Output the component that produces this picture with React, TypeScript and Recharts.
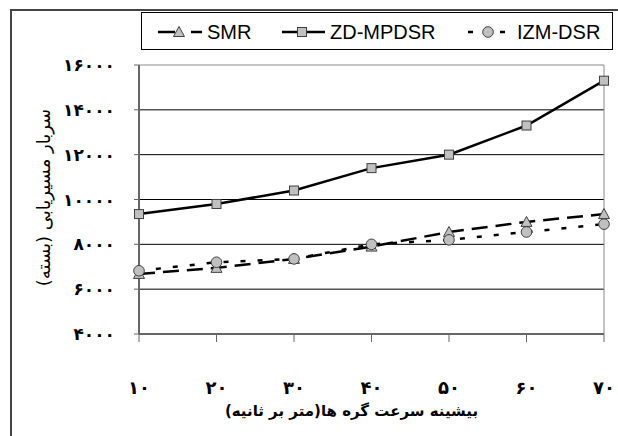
import React from 'react';
import { LineChart, Line, XAxis, YAxis, CartesianGrid, ReferenceLine, Label } from 'recharts';

const speeds = [10, 20, 30, 40, 50, 60, 70];
const smr = [6680, 6950, 7350, 7900, 8550, 9000, 9350];
const zdMpdsr = [9350, 9800, 10400, 11400, 12000, 13300, 15300];
const izmDsr = [6820, 7200, 7350, 8000, 8200, 8550, 8900];
const yTicks = [4000, 6000, 8000, 10000, 12000, 14000, 16000];
const gridTicks = [6000, 8000, 10000, 12000, 14000];
const seriesNames = ['SMR', 'ZD-MPDSR', 'IZM-DSR'];
const yAxisTitle = 'سربار مسیریابی (بسته)';
const xAxisTitle = 'بیشینه سرعت گره ها(متر بر ثانیه)';

const data = speeds.map((s, i) => ({ speed: s, smr: smr[i], zd: zdMpdsr[i], izm: izmDsr[i] }));

const FA = '۰۱۲۳۴۵۶۷۸۹';
const toFa = (v: number | string) => String(v).replace(/\d/g, (d) => FA[Number(d)]);

const MARK_FILL = '#c0c0c0';
const MARK_STROKE = '#404040';

const Tri = (p: any) => {
  const { cx, cy } = p;
  if (cx == null || cy == null) return null;
  return <path key={p.key} d={`M${cx},${cy - 5.5} L${cx + 5.5},${cy + 4.5} L${cx - 5.5},${cy + 4.5} Z`} fill={MARK_FILL} stroke={MARK_STROKE} strokeWidth={1} />;
};
const Sq = (p: any) => {
  const { cx, cy } = p;
  if (cx == null || cy == null) return null;
  return <rect key={p.key} x={cx - 4.5} y={cy - 4.5} width={9} height={9} fill={MARK_FILL} stroke={MARK_STROKE} strokeWidth={1} />;
};
const Circ = (p: any) => {
  const { cx, cy } = p;
  if (cx == null || cy == null) return null;
  return <circle key={p.key} cx={cx} cy={cy} r={5.3} fill={MARK_FILL} stroke={MARK_STROKE} strokeWidth={1} />;
};

const YTitle = (props: any) => {
  const vb = props.viewBox || { x: 0, y: 65, width: 139, height: 269 };
  const x = vb.x + 43;
  const y = vb.y + vb.height / 2 - 2;
  return (
    <text x={x} y={y} transform={`rotate(-90 ${x} ${y})`} textAnchor="middle" dominantBaseline="central" direction="rtl"
      style={{ fontFamily: 'DejaVu Sans', fontSize: 18, fill: '#000', direction: 'rtl', unicodeBidi: 'plaintext' } as any}>
      {yAxisTitle}
    </text>
  );
};
const XTitle = (props: any) => {
  const vb = props.viewBox || { x: 139, y: 334, width: 465, height: 102 };
  const x = vb.x + vb.width / 2 - 20;
  const y = vb.y + 77;
  return (
    <text x={x} y={y} textAnchor="middle" dominantBaseline="central" direction="rtl"
      style={{ fontFamily: 'DejaVu Sans', fontWeight: 'bold', fontSize: 15, fill: '#000', direction: 'rtl', unicodeBidi: 'plaintext' } as any}>
      {xAxisTitle}
    </text>
  );
};

const LegendBox = () => (
  <svg width={472} height={38} style={{ position: 'absolute', left: 141, top: 12 }}>
    <rect x={0.5} y={0.5} width={471} height={37} fill="#fff" stroke="#000" strokeWidth={1} />
    <g>
      <line x1={17} y1={20} x2={34} y2={20} stroke="#000" strokeWidth={2.5} />
      <line x1={50} y1={20} x2={61} y2={20} stroke="#000" strokeWidth={2.5} />
      <path d="M38,14.5 L43.5,24.5 L32.5,24.5 Z" fill={MARK_FILL} stroke={MARK_STROKE} />
      <text x={66} y={20} dominantBaseline="central" style={{ fontFamily: 'Liberation Sans', fontSize: 20 }}>{seriesNames[0]}</text>
    </g>
    <g>
      <line x1={141} y1={20} x2={184} y2={20} stroke="#000" strokeWidth={2.5} />
      <rect x={156.5} y={15.5} width={9} height={9} fill={MARK_FILL} stroke={MARK_STROKE} />
      <text x={189} y={20} dominantBaseline="central" style={{ fontFamily: 'Liberation Sans', fontSize: 20 }}>{seriesNames[1]}</text>
    </g>
    <g>
      <line x1={327} y1={20} x2={332} y2={20} stroke="#000" strokeWidth={2.5} />
      <line x1={359} y1={20} x2={364} y2={20} stroke="#000" strokeWidth={2.5} />
      <circle cx={347} cy={20} r={5.3} fill={MARK_FILL} stroke={MARK_STROKE} />
      <text x={376} y={20} dominantBaseline="central" style={{ fontFamily: 'Liberation Sans', fontSize: 20 }}>{seriesNames[2]}</text>
    </g>
  </svg>
);

export default function App() {
  return (
    <div style={{ position: 'absolute', left: 0, top: 0, width: 618, height: 436, background: '#fff', overflow: 'hidden' }}>
      <div style={{ position: 'absolute', left: 10, top: 9, width: 700, height: 500, borderLeft: '2px solid #444', borderTop: '2px solid #444' }} />
      <div style={{ position: 'absolute', left: 0, top: 0 }}>
        <LineChart width={618} height={436} data={data} margin={{ top: 65, right: 14, left: 0, bottom: 0 }}>
          <CartesianGrid vertical={false} horizontalValues={gridTicks} stroke="#000" strokeWidth={1} />
          <ReferenceLine y={16000} stroke="#888" strokeWidth={1} />
          <ReferenceLine x={70} stroke="#888" strokeWidth={1} />
          <XAxis dataKey="speed" type="number" domain={[10, 70]} ticks={speeds} tickFormatter={toFa}
            height={102} tickSize={8} tickMargin={39} axisLine={{ stroke: '#666', strokeWidth: 2 }} tickLine={{ stroke: '#666', strokeWidth: 1 }}
            tick={{ fill: '#000', fontFamily: 'DejaVu Sans', fontWeight: 'bold', fontSize: 18 }} interval={0}>
            <Label content={XTitle} />
          </XAxis>
          <YAxis type="number" domain={[4000, 16000]} ticks={yTicks} tickFormatter={toFa} width={139}
            tickSize={5} tickMargin={19} axisLine={{ stroke: '#666', strokeWidth: 2 }} tickLine={{ stroke: '#666', strokeWidth: 1 }}
            tick={{ fill: '#000', fontFamily: 'DejaVu Sans', fontWeight: 'bold', fontSize: 17 }} interval={0}>
            <Label content={YTitle} />
          </YAxis>
          <Line dataKey="smr" name={seriesNames[0]} stroke="#000" strokeWidth={2.5} strokeDasharray="16 8" dot={Tri} isAnimationActive={false} />
          <Line dataKey="zd" name={seriesNames[1]} stroke="#000" strokeWidth={2.5} dot={Sq} isAnimationActive={false} />
          <Line dataKey="izm" name={seriesNames[2]} stroke="#000" strokeWidth={2.5} strokeDasharray="5 12" dot={Circ} isAnimationActive={false} />
        </LineChart>
      </div>
      <LegendBox />
    </div>
  );
}
